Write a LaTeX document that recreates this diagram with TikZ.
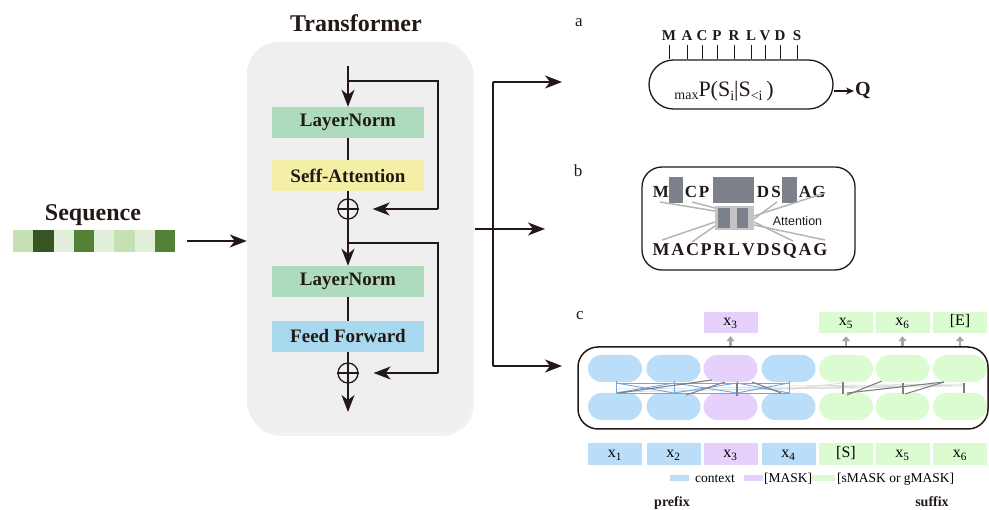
\documentclass[tikz,border=0pt]{standalone}
\usepackage{fontspec}
\setmainfont{Liberation Serif}
\newfontfamily\arialf{Liberation Sans}
\usetikzlibrary{arrows.meta,shadows}
\newcommand\fsz[1]{\fontsize{#1}{#1}\selectfont}
\definecolor{ink}{HTML}{231815}
\definecolor{tgray}{HTML}{EFEFEF}
\definecolor{lngreen}{HTML}{AEDBBE}
\definecolor{sayellow}{HTML}{F4EFA6}
\definecolor{ffblue}{HTML}{A8D8EE}
\definecolor{sqA}{HTML}{C5E0B3}
\definecolor{sqB}{HTML}{375623}
\definecolor{sqC}{HTML}{E2EFDA}
\definecolor{sqD}{HTML}{538135}
\definecolor{slate}{HTML}{7C818B}
\definecolor{midgray}{HTML}{C4C4C4}
\definecolor{linegray}{HTML}{B5B5B5}
\definecolor{cblue}{HTML}{BADDFA}
\definecolor{cpurple}{HTML}{E5D1FC}
\definecolor{cgreen}{HTML}{DBFBD1}
\definecolor{attblue}{HTML}{6FA6E6}
\definecolor{attgray}{HTML}{7F7F7F}
\definecolor{attlight}{HTML}{D6D6D6}
\definecolor{uparrow}{HTML}{A6A6A6}
\begin{document}
\begin{tikzpicture}[x=1pt,y=-1pt,
  line/.style={draw=ink, line width=1.5pt},
  arr/.style={line, -{Stealth[length=17pt,width=13pt,inset=5pt]}},
  arrsmall/.style={line, line width=1.2pt, -{Stealth[length=8pt,width=7pt,inset=2.5pt]}},
  blockbox/.style={draw=none, minimum width=152pt, minimum height=31pt, inner sep=0pt, font=\fsz{19}\bfseries, text=ink},
  oplus/.style={circle, draw=ink, line width=1.3pt, minimum size=20pt, inner sep=0pt},
  seqsq/.style={draw=none, minimum width=20.25pt, minimum height=22pt, inner sep=0pt},
  aletter/.style={anchor=base, inner sep=0pt, font=\fsz{15}\bfseries, text=ink},
  bletter/.style={anchor=base, inner sep=0pt, font=\fsz{17}\bfseries, text=ink},
  graybk/.style={draw=none, fill=slate, inner sep=0pt},
  pill/.style={draw=none, minimum width=54pt, minimum height=27pt, rounded corners=13.5pt, inner sep=0pt},
  tok/.style={draw=none, minimum width=54pt, minimum height=22pt, inner sep=0pt, font=\fsz{16}, text height=10pt, text depth=3pt},
  uparr/.style={draw=uparrow, line width=2.5pt, -{Triangle[length=5pt,width=8pt]}, shorten >=3pt},
  battn/.style={draw=attblue, line width=0.9pt},
  gattn/.style={draw=attgray, line width=1.1pt},
  lattn/.style={draw=attlight, line width=0.6pt},
  bline/.style={draw=linegray, line width=1.5pt},
  legtxt/.style={anchor=base west, inner sep=0pt, font=\fsz{13.5}},
  plabel/.style={anchor=base, inner sep=0pt, font=\fsz{17}, text=ink}
]
\useasboundingbox (0,0) rectangle (989,510);

% ---------------- Sequence ----------------
\node[anchor=base, inner sep=0pt, font=\fsz{24}\bfseries, text=ink] (seqt) at (93,221) {Sequence};
\foreach \c [count=\i] in {sqA,sqB,sqC,sqD,sqC,sqA,sqC,sqD}
  \node[seqsq, fill=\c] (s\i) at ({13+20.25*(\i-0.5)},241) {};

% ---------------- Transformer ----------------
\node[anchor=base, inner sep=0pt, font=\fsz{24}\bfseries, text=ink] (ttl) at (356,32) {Transformer};
\node[draw=none, fill=tgray, minimum width=225pt, minimum height=391pt, rounded corners=32pt,
      drop shadow={opacity=0.10, shadow xshift=2pt, shadow yshift=-3pt}] (tbox) at (359.5,237.5) {};
\draw[arr] ([xshift=12pt]s8.east) -- (tbox.west |- s8.east);

\node[blockbox, fill=lngreen] (ln1) at (348,122.5) {LayerNorm};
\node[blockbox, fill=sayellow] (sa) at (348,175.5) {Seff-Attention};
\node[oplus] (p1) at (348,209) {};
\node[blockbox, fill=lngreen] (ln2) at (348,281.5) {LayerNorm};
\node[blockbox, fill=ffblue] (ff) at (348,336.5) {Feed Forward};
\node[oplus] (p2) at (348,373) {};
\foreach \p in {p1,p2}
  \draw[ink, line width=1.3pt] (\p.north) -- (\p.south) (\p.west) -- (\p.east);

\coordinate (tin) at (348,66);
\coordinate (tout) at (348,412);
\coordinate (r1) at (438,81);
\coordinate (r2) at (438,243);
\draw[arr] (tin) -- (ln1.north);
\draw[line] (tin |- r1) -- (r1) -- (r1 |- p1);
\draw[arr, shorten >=14pt] (r1 |- p1) -- (p1.east);
\draw[line] (ln1.south) -- (sa.north);
\draw[line] (sa.south) -- (p1.north);
\draw[arr] (p1.south) -- (ln2.north);
\draw[line] (p1.south |- r2) -- (r2) -- (r2 |- p2);
\draw[arr, shorten >=15pt] (r2 |- p2) -- (p2.east);
\draw[line] (ln2.south) -- (ff.north);
\draw[line] (ff.south) -- (p2.north);
\draw[arr] (p2.south) -- (tout);

% ---------------- Splitter ----------------
\coordinate (split) at (475,229);
\coordinate (vtop) at (493,82);
\coordinate (vbot) at (493,366);
\coordinate (ain) at (562,82);
\coordinate (bin) at (545,229);
\coordinate (cin) at (562,366);
\draw[line] (vtop) -- (vbot);
\draw[arr] (vtop) -- (ain);
\draw[arr] (split) -- (bin);
\draw[arr] (vbot) -- (cin);

% ---------------- Panel a ----------------
\node[plabel] (la) at (579,27) {a};
\node[draw=ink, line width=1.3pt, minimum width=184pt, minimum height=49pt, rounded corners=24.5pt, inner sep=0pt] (abox) at (741,84.5) {};
\foreach \l/\x [count=\i] in {M/669,A/687,C/702,P/717,R/734,L/751,V/765,D/780,S/797}{
  \node[aletter] (a\i) at (\x,41) {\l};
  \draw[ink, line width=1pt] ([yshift=-4pt]a\i.base) -- (a\i.base |- abox.north);
}
\node[anchor=base, inner sep=0pt, text=ink] (pexpr) at (724,97)
  {\raisebox{-3pt}{\fsz{14}max}\fsz{22}P(S\raisebox{-4pt}{\fsz{14}i}|S\raisebox{-4pt}{\fsz{14}<i}\,)};
\node[anchor=west, inner sep=1pt, font=\fsz{20}\bfseries, text=ink] (Q) at (854,91) {Q};
\draw[arrsmall] (abox.east |- Q.west) -- (Q.west);

% ---------------- Panel b ----------------
\node[plabel] (lb) at (578,177) {b};
\node[draw=ink, line width=1.3pt, minimum width=213pt, minimum height=103pt, rounded corners=20pt, inner sep=0pt] (bbox) at (748.5,218.5) {};
\node[graybk, minimum width=14pt, minimum height=26pt] (gb1) at (676,190) {};
\node[graybk, minimum width=41pt, minimum height=26pt] (gb2) at (733.5,190) {};
\node[graybk, minimum width=15pt, minimum height=26pt] (gb3) at (789.5,190) {};
\foreach \l/\x [count=\i] in {M/661,C/691,P/704,D/763,S/776,A/805,G/819}
  \node[bletter] (bt\i) at (\x,198) {\l};
\draw[bline] (660,202) -- (715,211);
\draw[bline] (692,202) -- (715,208);
\draw[bline] (662,240) -- (715,222);
\draw[bline] (692,242) -- (715,226);
\draw[bline] (777,202) -- (754,219);
\draw[bline] (825,193) -- (754,216);
\draw[bline] (754,222) -- (793,241);
\draw[bline] (754,225) -- (825,240);
\node[draw=none, fill=midgray, minimum width=39pt, minimum height=24pt, inner sep=0pt] (cb) at (734.5,218.5) {};
\node[graybk, minimum width=12pt, minimum height=20pt] (cb1) at (724,218) {};
\node[graybk, minimum width=11pt, minimum height=20pt] (cb2) at (742.5,218) {};
\node[anchor=center, inner sep=0pt, font=\arialf\fsz{12.5}, text=ink] (attn) at (797.5,221) {Attention};
\node[anchor=base, inner sep=0pt, font=\fsz{18}\bfseries, text=ink] (bbot) at (740,256)
  {M\hspace{1.7pt}A\hspace{1.7pt}C\hspace{1.7pt}P\hspace{1.7pt}R\hspace{1.7pt}L\hspace{1.7pt}V\hspace{1.7pt}D\hspace{1.7pt}S\hspace{1.7pt}Q\hspace{1.7pt}A\hspace{1.7pt}G};

% ---------------- Panel c ----------------
\node[plabel] (lc) at (580,320) {c};
\node[draw=ink, line width=1.5pt, minimum width=410pt, minimum height=82pt, rounded corners=20pt, inner sep=0pt] (cbox) at (783,388) {};
\foreach \x/\c [count=\i] in {615/cblue,673.5/cblue,730.5/cpurple,788.5/cblue,846/cgreen,902.5/cgreen,960/cgreen}{
  \node[pill, fill=\c] (t\i) at (\x,368.5) {};
  \node[pill, fill=\c] (b\i) at (\x,406.5) {};
}
\foreach \x/\c/\t [count=\i] in {615/cblue/x\textsubscript{1},673.5/cblue/x\textsubscript{2},730.5/cpurple/x\textsubscript{3},788.5/cblue/x\textsubscript{4},846/cgreen/{[S]},902.5/cgreen/x\textsubscript{5},960/cgreen/x\textsubscript{6}}
  \node[tok, fill=\c] (k\i) at (\x,454) {\t};
\node[tok, fill=cpurple, minimum height=21pt] (o3) at (730.5,322.5) {x\textsubscript{3}};
\node[tok, fill=cgreen, minimum height=21pt] (o5) at (846,322.5) {x\textsubscript{5}};
\node[tok, fill=cgreen, minimum height=21pt] (o6) at (902.5,322.5) {x\textsubscript{6}};
\node[tok, fill=cgreen, minimum height=21pt] (o7) at (960,322.5) {[E]};
\foreach \o in {o3,o5,o6,o7}
  \draw[uparr] (\o.south |- cbox.north) -- (\o.south);

% attention pattern
\draw[lattn] (616,392) -- (964,385);
\draw[lattn] (674,391) -- (903,385);
\draw[lattn] (737,390) -- (964,386);
\draw[lattn] (789,386) -- (964,384);
\draw[lattn] (789,389) -- (843,383);
\draw[lattn] (616,389) -- (789,387);
\draw[battn] (616,383) -- (789,383);
\draw[battn] (616,393) -- (789,393);
\foreach \x in {616,674,737,789} \draw[battn] (\x,381) -- (\x,394);
\foreach \a/\b in {616/674,674/737,737/789}{
  \draw[battn] (\a,383) -- (\b,393);
  \draw[battn] (\a,393) -- (\b,383);
}
\draw[gattn] (619,393) -- (712,380);
\draw[gattn] (686,395) -- (725,382);
\draw[gattn] (752,382) -- (781,393);
\draw[gattn] (737,383) -- (737,396);
\draw[gattn] (843,382) -- (843,394);
\draw[gattn] (903,383) -- (903,394);
\draw[gattn] (964,383) -- (964,393);
\draw[gattn] (847,395) -- (882,381);
\draw[gattn] (847,393) -- (944,382);
\draw[gattn] (905,394) -- (944,382);

% legend
\node[draw=none, fill=cblue, minimum width=19pt, minimum height=6pt, inner sep=0pt] (lg1) at (679.5,478.5) {};
\node[legtxt] (lt1) at (695,483) {context};
\node[draw=none, fill=cpurple, minimum width=19pt, minimum height=6pt, inner sep=0pt] (lg2) at (753.5,478.5) {};
\node[legtxt] (lt2) at (764,483) {[MASK]};
\node[draw=none, fill=cgreen, minimum width=24pt, minimum height=6pt, inner sep=0pt] (lg3) at (823,478.5) {};
\node[legtxt] (lt3) at (837,483) {[sMASK or gMASK]};
\node[anchor=base, inner sep=0pt, font=\fsz{14}\bfseries, text=ink] (pre) at (672,507) {prefix};
\node[anchor=base, inner sep=0pt, font=\fsz{14}\bfseries, text=ink] (suf) at (932,507) {suffix};
\end{tikzpicture}
\end{document}
